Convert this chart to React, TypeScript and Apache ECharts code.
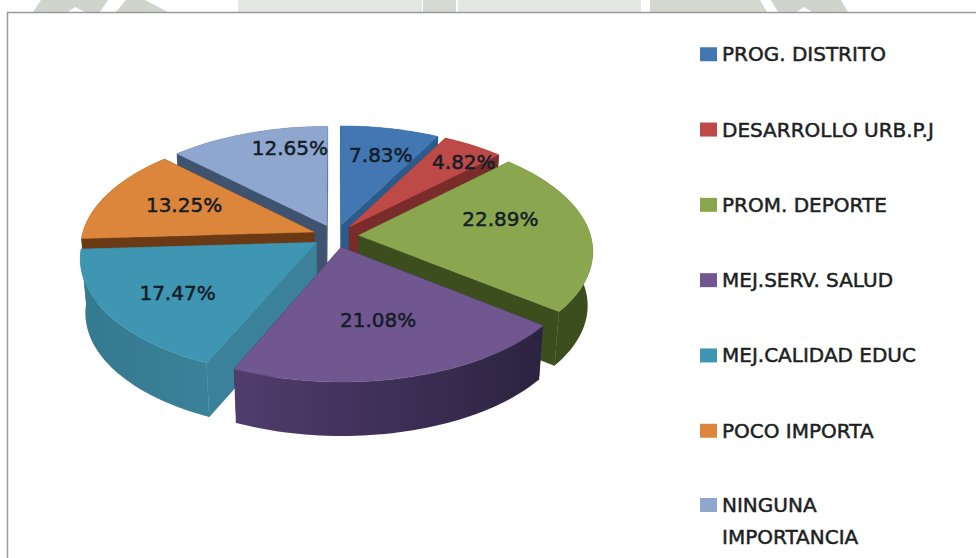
import React, { useEffect, useRef } from "react";
import * as echarts from "echarts";

const categories = [
  "PROG. DISTRITO",
  "DESARROLLO URB.P.J",
  "PROM. DEPORTE",
  "MEJ.SERV. SALUD",
  "MEJ.CALIDAD EDUC",
  "POCO IMPORTA",
  "NINGUNA IMPORTANCIA",
];
const values = [7.83, 4.82, 22.89, 21.08, 17.47, 13.25, 12.65];

const topColors = ["#4277b2", "#bd4a47", "#8aa74f", "#70578f", "#3e96b2", "#dc863c", "#8fa7cf"];
const cutColors = ["#2b5b8a", "#7a2c2a", "#3c4e1e", "#3a2d54", "#3a8199", "#6b3a14", "#3f5270"];
const wallLeft = ["#2b5b8a", "#7a2c2a", "#3c4e1e", "#513c6e", "#35798f", "#6b3a14", "#3f5270"];
const wallRight = ["#2b5b8a", "#7a2c2a", "#3c4e1e", "#2b2340", "#3a8199", "#6b3a14", "#3f5270"];
const paintOrder = [2, 4, 5, 7, 6, 3, 1];
const labelNudge = [
  [8, -8],
  [35, -13],
  [-1, -12],
  [-2, -4],
  [-13, 8],
  [0, -3],
  [14, -18],
];

const CX = 335.5;
const CY = 236;
const R = 232;
const A = 114.4;
const B = 0.128;
const EXPLODE = 0.1;
const DEPTH = 54;
const LABEL_R = 0.62;

const total = values.reduce((s, v) => s + v, 0);

function sliceAngles(i: number, value: number) {
  let before = 0;
  for (let k = 0; k < i; k++) before += values[k];
  const a0 = (before / total) * Math.PI * 2;
  const a1 = a0 + (value / total) * Math.PI * 2;
  return [a0, a1, (a0 + a1) / 2];
}

function project(u: number, v: number) {
  const d = 1 - B * v;
  return [CX + (R * u) / d, CY + (A * v) / d];
}

function drop(p: number[]) {
  return [CX + (p[0] - CX) * 0.98, p[1] + DEPTH];
}

function renderSlice(index: number) {
  return (_params: any, api: any) => {
    const [a0, a1, mid] = sliceAngles(index, api.value(0));
    const u0 = EXPLODE * Math.sin(mid);
    const v0 = -EXPLODE * Math.cos(mid);
    const apex = project(u0, v0);
    const arc: number[][] = [];
    const steps = 48;
    for (let s = 0; s <= steps; s++) {
      const t = a0 + ((a1 - a0) * s) / steps;
      arc.push(project(u0 + Math.sin(t), v0 - Math.cos(t)));
    }
    const first = arc[0];
    const last = arc[arc.length - 1];
    const wallFill = new echarts.graphic.LinearGradient(
      0, 0, 1, 0,
      [
        { offset: 0, color: wallLeft[index] },
        { offset: 1, color: wallRight[index] },
      ],
      false
    );
    const face = (points: number[][], fill: string) => ({
      type: "polygon",
      shape: { points },
      style: { fill, stroke: fill, lineWidth: 0.5 },
    });
    return {
      type: "group",
      children: [
        face([apex, first, drop(first), drop(apex)], cutColors[index]),
        face([apex, last, drop(last), drop(apex)], cutColors[index]),
        {
          type: "polygon",
          shape: { points: arc.concat(arc.map(drop).reverse()) },
          style: { fill: wallFill },
        },
        face([apex, ...arc], topColors[index]),
      ],
    };
  };
}

function renderLabel(params: any, api: any) {
  const i = params.dataIndex;
  const value = api.value(0);
  const [, , mid] = sliceAngles(i, value);
  const u = (EXPLODE + LABEL_R) * Math.sin(mid);
  const v = -(EXPLODE + LABEL_R) * Math.cos(mid);
  const p = project(u, v);
  return {
    type: "text",
    style: {
      text: value.toFixed(2) + "%",
      x: p[0] + labelNudge[i][0],
      y: p[1] + labelNudge[i][1],
      align: "center",
      verticalAlign: "middle",
      fill: "#131c28",
      stroke: "#131c28",
      lineWidth: 0.5,
      font: '400 20px "DejaVu Sans"',
    },
  };
}

const watermark = [
  { points: [[33, 12], [41, 0], [108, 0], [100, 12]], fill: "#cfd5cc" },
  { points: [[68, 12], [75, 7], [85, 12]], fill: "#ffffff" },
  { points: [[116, 12], [126, 0], [145, 0], [168, 12]], fill: "#cfd5cc" },
  { points: [[238, 12], [238, 0], [422, 0], [422, 12]], fill: "#e4e7e3" },
  { points: [[423, 12], [423, 0], [456, 0], [456, 12]], fill: "#d5d9d2" },
  { points: [[458, 12], [458, 0], [641, 0], [641, 12]], fill: "#e4e7e3" },
  { points: [[650, 12], [650, 0], [760, 0], [767, 12]], fill: "#d3d8d0" },
  { points: [[771, 0], [841, 0], [848, 12], [778, 12]], fill: "#cfd5cc" },
  { points: [[797, 12], [804, 7], [812, 12]], fill: "#ffffff" },
];

export default function App() {
  const ref = useRef<HTMLDivElement>(null);
  useEffect(() => {
    document.body.style.margin = "0";
    const chart = echarts.init(ref.current!, null, { renderer: "svg" });
    const legendText = {
      fontFamily: "DejaVu Sans",
      fontSize: 20,
      color: "#1d1f22",
      textBorderColor: "#1d1f22",
      textBorderWidth: 0.5,
    };
    chart.setOption({
      animation: false,
      backgroundColor: "#ffffff",
      color: topColors,
      legend: [
        {
          data: categories.slice(0, 6),
          orient: "vertical",
          left: 700,
          top: 44,
          padding: 0,
          icon: "rect",
          itemWidth: 17,
          itemHeight: 14,
          itemGap: 54.8,
          selectedMode: false,
          textStyle: { ...legendText, lineHeight: 20 },
        },
        {
          data: categories.slice(6),
          orient: "vertical",
          left: 700,
          top: 457,
          padding: 0,
          icon: "rect",
          itemWidth: 17,
          itemHeight: 14,
          selectedMode: false,
          formatter: () => "\nNINGUNA\nIMPORTANCIA",
          textStyle: { ...legendText, lineHeight: 32 },
        },
      ],
      graphic: [
        ...watermark.map((w) => ({
          type: "polygon",
          shape: { points: w.points },
          style: { fill: w.fill },
          silent: true,
        })),
        {
          type: "polyline",
          shape: { points: [[7.5, 558], [7.5, 12.5], [976, 12.5]] },
          style: { fill: "none", stroke: "#9a9a9a", lineWidth: 1.5 },
          silent: true,
        },
      ],
      series: [
        ...categories.map((name, i) => ({
          type: "custom",
          name,
          coordinateSystem: "none",
          z: paintOrder[i] + 2,
          itemStyle: { color: topColors[i] },
          data: [[values[i]]],
          renderItem: renderSlice(i),
        })),
        {
          type: "custom",
          name: "labels",
          coordinateSystem: "none",
          z: 20,
          data: values.map((v) => [v]),
          renderItem: renderLabel,
        },
      ],
    });
    return () => chart.dispose();
  }, []);
  return <div ref={ref} style={{ position: "absolute", left: 0, top: 0, width: 976, height: 558 }} />;
}
